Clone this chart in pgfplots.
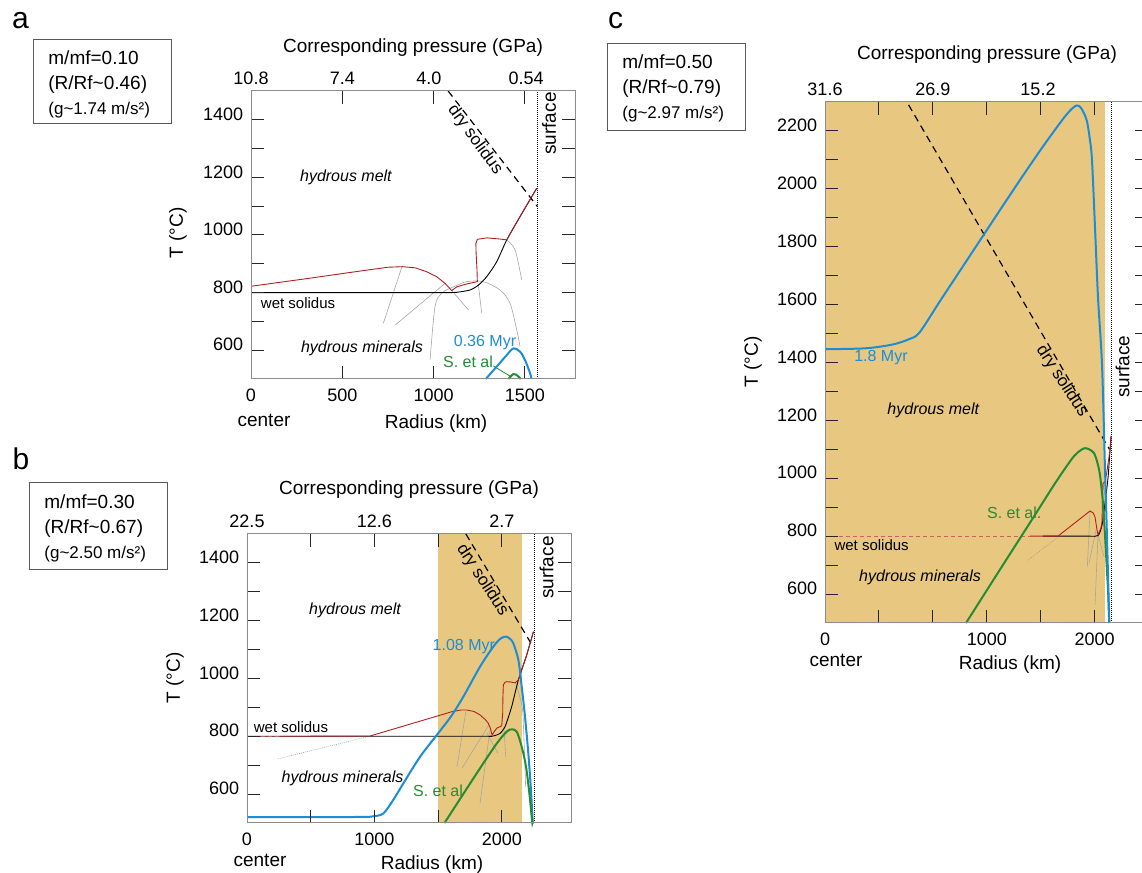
\documentclass[border=0pt]{standalone}
\usepackage{fontspec}
\setmainfont{Liberation Sans}
\usepackage{pgfplots}
\pgfplotsset{compat=1.18}
\definecolor{cblue}{RGB}{27,141,214}
\definecolor{cgreen}{RGB}{38,140,50}
\definecolor{cred}{RGB}{180,30,35}
\definecolor{cband}{RGB}{232,200,128}
\newcommand{\fs}[1]{\fontsize{#1}{#1}\selectfont}
\pgfplotsset{
  panel/.style={
    scale only axis, clip=false, anchor=south west, axis on top,
    axis line style={draw=black!45, line width=0.5pt},
    tick align=inside,
    major tick length=6.5pt, minor tick length=6.5pt,
    tick style={black!85, line width=0.5pt},
    ticklabel style={font=\fs{9}},
    /pgf/number format/1000 sep={},
    /pgf/number format/assume math mode=true,
    xticklabel style={anchor=base, yshift=-11.5pt},
    yticklabel style={anchor=east, inner sep=0pt, xshift=-3.75pt, yshift=2.75pt},
    ymin=500,
  },
  bl/.style={color=cblue, line width=1pt, smooth, tension=0.5},
  gr/.style={color=cgreen, line width=1pt, smooth, tension=0.5},
  rd/.style={color=cred, line width=0.45pt},
  rdd/.style={color=cred!70, line width=0.45pt, dash pattern=on 2pt off 1.5pt},
  wet/.style={color=black, line width=0.45pt},
  gl/.style={color=black!35, line width=0.3pt},
  gld/.style={color=black!40, line width=0.3pt, dash pattern=on 0.4pt off 0.6pt},
  dry/.style={color=black, line width=0.6pt, dash pattern=on 3.5pt off 2.5pt},
  surf/.style={color=black, line width=0.35pt, dash pattern=on 0.5pt off 0.5pt},
}
\tikzset{
  lab/.style={font=\fs{8}, inner sep=0pt},
  ital/.style={font=\fs{8}\itshape, inner sep=0pt},
  big/.style={font=\fs{9.5}, inner sep=0pt},
}
\begin{document}
\begin{tikzpicture}
\useasboundingbox (0,0) rectangle (571pt,436.5pt);

% ---------------- panel labels and boxes ----------------
\node[font=\fs{15}, inner sep=0pt] at (10.25pt,426.25pt) {a};
\node[font=\fs{15}, inner sep=0pt] at (10.5pt,207pt) {b};
\node[font=\fs{15}, inner sep=0pt] at (307.75pt,426.25pt) {c};

\draw[black!65, line width=0.5pt] (16.5pt,374.5pt) rectangle (85.5pt,416.5pt);
\node[big, anchor=base west] at (24pt,404pt) {m/mf=0.10};
\node[big, anchor=base west] at (24pt,391.5pt) {(R/Rf\textasciitilde 0.46)};
\node[font=\fs{8.5}, inner sep=0pt, anchor=base west] at (24pt,379pt) {(g\textasciitilde 1.74 m/s²)};

\draw[black!65, line width=0.5pt] (14.5pt,151.5pt) rectangle (83.5pt,195pt);
\node[big, anchor=base west] at (22pt,182pt) {m/mf=0.30};
\node[big, anchor=base west] at (22pt,169.5pt) {(R/Rf\textasciitilde 0.67)};
\node[font=\fs{8.5}, inner sep=0pt, anchor=base west] at (22pt,157pt) {(g\textasciitilde 2.50 m/s²)};

\draw[black!65, line width=0.5pt] (303.5pt,371pt) rectangle (372.5pt,414.5pt);
\node[big, anchor=base west] at (311pt,402pt) {m/mf=0.50};
\node[big, anchor=base west] at (311pt,389.5pt) {(R/Rf\textasciitilde 0.79)};
\node[font=\fs{8.5}, inner sep=0pt, anchor=base west] at (311pt,377pt) {(g\textasciitilde 2.97 m/s²)};

% titles, axis labels
\node[big, anchor=base] at (206.5pt,410pt) {Corresponding pressure (GPa)};
\node[big, anchor=base] at (204.5pt,189.3pt) {Corresponding pressure (GPa)};
\node[big, anchor=base] at (493.5pt,406.8pt) {Corresponding pressure (GPa)};

\node[big, rotate=90] at (89pt,320pt) {T (°C)};
\node[big, rotate=90] at (87.5pt,97.5pt) {T (°C)};
\node[big, rotate=90] at (376.5pt,255.5pt) {T (°C)};

\node[big, anchor=base] at (132pt,223pt) {center};
\node[big, anchor=base] at (218pt,222pt) {Radius (km)};
\node[big, anchor=base] at (130pt,3pt) {center};
\node[big, anchor=base] at (216pt,1.5pt) {Radius (km)};
\node[big, anchor=base] at (418pt,103pt) {center};
\node[big, anchor=base] at (505pt,101.5pt) {Radius (km)};

% ================= panel a =================
\begin{axis}[panel, at={(125.5pt,247pt)}, width=162pt, height=144pt,
  xmin=0, xmax=1775, ymax=1500,
  xtick={0,500,1000,1500}, xticklabels={0,500,1000,1500},
  ytick={600,800,...,1400}, minor ytick={700,900,...,1300}]
\addplot[dry] coordinates {(1080,1500) (1570,1098)};
\addplot[surf] coordinates {(1567,500) (1567,1500)};
\addplot[gl] coordinates {(826,888) (725,693)};
\addplot[gl] coordinates {(1063,832) (789,687)};
\addplot[gl] coordinates {(1100,807) (1191,740)};
\addplot[gl, smooth] coordinates {(981,566) (1008,751) (1045,798) (1109,820) (1182,838) (1273,838) (1364,809) (1419,763) (1456,670) (1474,612)};
\addplot[gl] coordinates {(1246,826) (1264,728)};
\addplot[gl, smooth] coordinates {(1401,983) (1447,948) (1483,844)};
\addplot[wet, line width=0.6pt] coordinates {(0,800) (640,800)};
\addplot[wet, smooth, tension=0.4] coordinates {(0,800) (1000,800) (1080,800) (1127,801) (1200,809) (1246,826) (1291,855) (1346,907) (1401,983) (1474,1064) (1565,1162)};
\addplot[rd] coordinates {(0,822) (300,848) (600,875) (750,888) (830,890) (900,886) (960,873) (1018,855) (1063,832) (1100,807) (1127,820) (1182,830) (1240,838) (1238,880) (1233,940) (1232,971) (1240,985) (1291,990) (1364,986) (1401,983) (1474,1064) (1565,1162)};
\addplot[bl] coordinates {(1286,500) (1346,543) (1401,583) (1437,606) (1474,595) (1501,566) (1529,520) (1537,500)};
\addplot[gr] coordinates {(1410,500) (1437,517) (1459,512) (1478,500)};
\addplot[color=cgreen, line width=0.4pt] coordinates {(1328,545) (1419,510)};
% pressure labels
\node[font=\fs{9}, inner sep=0pt, anchor=base] at (axis cs:0,1500) [yshift=3.3pt] {10.8};
\node[font=\fs{9}, inner sep=0pt, anchor=base] at (axis cs:500,1500) [yshift=3.3pt] {7.4};
\node[font=\fs{9}, inner sep=0pt, anchor=base] at (axis cs:975,1500) [yshift=3.3pt] {4.0};
\node[font=\fs{9}, inner sep=0pt, anchor=base] at (axis cs:1507,1500) [yshift=3.3pt] {0.54};
% texts
\node[big, rotate=90] at (axis cs:1633,1387) {surface};
\node[font=\fs{8.5}, inner sep=0pt, rotate=-54] at (axis cs:1227,1330) {dry solidus};
\node[ital] at (axis cs:520,1199) {hydrous melt};
\node[font=\fs{7.5}, inner sep=0pt] at (axis cs:258,764) {wet solidus};
\node[ital] at (axis cs:608,608) {hydrous minerals};
\node[lab, text=cblue] at (axis cs:1282,628) {0.36 Myr};
\node[lab, text=cgreen] at (axis cs:1189,559) {S. et al};
\end{axis}

% ================= panel b =================
\begin{axis}[panel, at={(123.5pt,25pt)}, width=162pt, height=144.5pt,
  xmin=0, xmax=2543, ymax=1500,
  xtick={0,500,...,2000}, xticklabels={0,,1000,,2000},
  ytick={600,800,...,1400}, minor ytick={700,900,...,1300}]
\addplot[fill=cband, draw=none] coordinates {(1500,500) (1500,1500) (2160,1500) (2160,500)};
\addplot[dry] coordinates {(1718,1500) (2245,1110)};
\addplot[surf] coordinates {(2253,500) (2253,1500)};
\addplot[gld] coordinates {(242,722) (961,800)};
\addplot[gl] coordinates {(1719,889) (1648,694)};
\addplot[gl] coordinates {(1898,839) (1688,690)};
\addplot[gl] coordinates {(1907,822) (1829,568)};
\addplot[gl] coordinates {(1883,811) (1969,742)};
\addplot[gl] coordinates {(2016,832) (2031,728)};
\addplot[gl, smooth] coordinates {(2109,985) (2160,900) (2172,811) (2187,625)};
\addplot[wet, smooth, tension=0.4] coordinates {(0,800) (1800,800) (1900,800) (1933,801) (1986,810) (2025,833) (2077,902) (2130,995) (2195,1081) (2248,1162)};
\addplot[rdd] coordinates {(0,800) (263,800)};
\addplot[rd] coordinates {(263,800) (966,801) (1607,885) (1680,891) (1724,891) (1780,886) (1829,874) (1870,858) (1894,845) (1910,828) (1920,810) (1925,805) (1940,816) (1960,828) (1999,836) (2007,880) (2008,926) (2012,978) (2025,987) (2038,989) (2070,988) (2104,985) (2130,995) (2195,1081) (2248,1162)};
\addplot[bl] coordinates {(0,520) (500,520) (900,521) (990,523) (1070,533) (1148,580) (1227,637) (1358,729) (1489,804) (1600,868) (1698,937) (1829,1041) (1933,1110) (1990,1138) (2033,1145) (2065,1137) (2090,1122) (2130,1064) (2156,972) (2182,868) (2208,741) (2227,626) (2242,510) (2244,500)};
\addplot[gr] coordinates {(1550,500) (1700,602) (1830,690) (1960,775) (2038,816) (2077,824) (2117,816) (2156,764) (2190,695) (2216,603) (2237,510) (2240,500)};
\node[font=\fs{9}, inner sep=0pt, anchor=base] at (axis cs:0,1500) [yshift=3.3pt] {22.5};
\node[font=\fs{9}, inner sep=0pt, anchor=base] at (axis cs:1000,1500) [yshift=3.3pt] {12.6};
\node[font=\fs{9}, inner sep=0pt, anchor=base] at (axis cs:2000,1500) [yshift=3.3pt] {2.7};
\node[big, rotate=90] at (axis cs:2352,1384) {surface};
\node[font=\fs{8.5}, inner sep=0pt, rotate=-57] at (axis cs:1847,1341) {dry solidus};
\node[ital] at (axis cs:848,1235) {hydrous melt};
\node[font=\fs{7.5}, inner sep=0pt] at (axis cs:345,832) {wet solidus};
\node[ital] at (axis cs:750,656) {hydrous minerals};
\node[lab, text=cblue] at (axis cs:1702,1112) {1.08 Myr};
\node[lab, text=cgreen] at (axis cs:1499,613) {S. et al};
\end{axis}

% ================= panel c =================
\begin{axis}[panel, at={(412.5pt,125pt)}, width=161.5pt, height=260.5pt,
  xmin=0, xmax=2396, ymax=2300,
  xtick={0,400,...,2000}, xticklabels={0,,,1000,,2000},
  ytick={600,800,...,2200}, minor ytick={700,900,...,2100}]
\addplot[fill=cband, draw=none] coordinates {(0,500) (0,2300) (2077,2300) (2077,500)};
\addplot[dry] coordinates {(620,2290) (2110,1100)};
\addplot[surf] coordinates {(2127,500) (2127,2300)};
\addplot[gld] coordinates {(1506,717) (1728,797)};
\addplot[gl] coordinates {(1966,887) (1946,694)};
\addplot[gl] coordinates {(2015,832) (1958,706)};
\addplot[gl] coordinates {(2025,804) (2003,562)};
\addplot[gl] coordinates {(2025,804) (2070,729)};
\addplot[gl, smooth] coordinates {(2062,983) (2085,900) (2090,760)};
\addplot[wet, smooth, tension=0.4] coordinates {(1617,800) (1950,800) (2025,802) (2055,838) (2077,914) (2100,1004) (2114,1097) (2122,1146)};
\addplot[rdd] coordinates {(0,798) (1521,798)};
\addplot[rd] coordinates {(1521,800) (1728,800) (1966,887) (1990,880) (2003,866) (2018,821) (2025,804) (2047,828) (2055,849) (2058,920) (2062,983) (2077,987) (2090,1020) (2114,1097) (2122,1146)};
\addplot[gr] coordinates {(1046,500) (1300,686) (1550,868) (1700,978) (1790,1040) (1850,1078) (1900,1098) (1929,1104) (1960,1100) (1995,1087) (2020,1055) (2040,1010) (2062,914) (2080,780) (2092,676) (2100,610) (2108,500)};
\addplot[bl] coordinates {(0,1446) (300,1449) (500,1462) (620,1480) (700,1503) (850,1610) (1000,1716) (1150,1822) (1300,1928) (1450,2033) (1600,2135) (1700,2200) (1780,2250) (1830,2276) (1867,2288) (1895,2282) (1920,2262) (1943,2234) (1962,2180) (1980,2103) (2003,1865) (2025,1626) (2055,1391) (2077,1032) (2092,793) (2107,534) (2110,500)};
\node[font=\fs{9}, inner sep=0pt, anchor=base] at (axis cs:0,2300) [yshift=3.3pt] {31.6};
\node[font=\fs{9}, inner sep=0pt, anchor=base] at (axis cs:800,2300) [yshift=3.3pt] {26.9};
\node[font=\fs{9}, inner sep=0pt, anchor=base] at (axis cs:1580,2300) [yshift=3.3pt] {15.2};
\node[big, rotate=90] at (axis cs:2207,1385) {surface};
\node[font=\fs{8.5}, inner sep=0pt, rotate=-57] at (axis cs:1758,1336) {dry solidus};
\node[lab, text=cblue] at (axis cs:415,1418) {1.8 Myr};
\node[ital] at (axis cs:803,1233) {hydrous melt};
\node[lab, text=cgreen] at (axis cs:1404,881) {S. et al.};
\node[font=\fs{7.5}, inner sep=0pt] at (axis cs:346,769) {wet solidus};
\node[ital] at (axis cs:705,656) {hydrous minerals};
\end{axis}
\end{tikzpicture}
\end{document}
